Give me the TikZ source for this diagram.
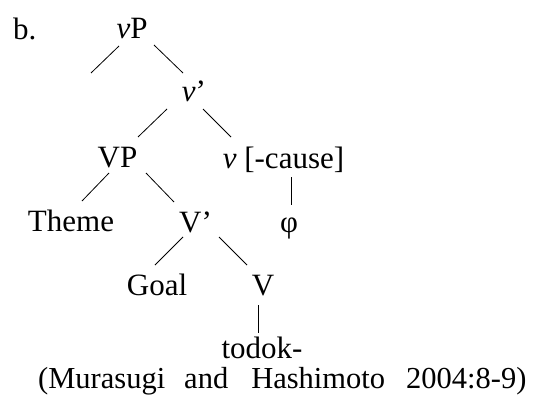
\documentclass[tikz,border=0pt]{standalone}
\usepackage{fontspec}
\setmainfont{Liberation Serif}
\usetikzlibrary{calc}
\begin{document}
\begin{tikzpicture}[x=1pt,y=-1pt,
  lab/.style={anchor=base,inner sep=0pt,font=\fontsize{31}{36}\selectfont},
  branch/.style={line width=0.8pt}]
\useasboundingbox (0,0) rectangle (533,396);
% labels of the tree
\node[lab,anchor=base west] (lbl) at (13,40) {b.};
\node[lab] (vP)    at (132,39)    {\textit{v}P};
\node[lab] (vbar)  at (194,102)   {\textit{v}’};
\node[lab] (VP)    at (117.5,167) {VP};
\node[lab] (vhead) at (283.5,168) {\textit{v} [-cause]};
\node[lab] (theme) at (71,231)    {Theme};
\node[lab] (Vbar)  at (195.5,232) {V’};
\node[lab] (phi)   at (289,232)   {φ};
\node[lab] (goal)  at (157,295)   {Goal};
\node[lab] (V)     at (263,295)   {V};
\node[lab] (todok) at (262,358)   {todok-};
\node[lab,anchor=base west,font=\fontsize{30.5}{36}\selectfont] (cite) at (38,388)
  {(Murasugi\hspace{19pt}and\hspace{23pt}Hashimoto\hspace{21pt}2004:8-9)};
% empty specifier branch
\coordinate (spec) at (91,73);
% branches
\draw[branch] ($(vP.base)+(-13,7)$)    -- (spec);
\draw[branch] ($(vP.base)+(22,6)$)     -- ($(vbar.base)+(-11,-29)$);
\draw[branch] ($(vbar.base)+(-27,7)$)  -- ($(VP.base)+(20.5,-30)$);
\draw[branch] ($(vbar.base)+(9,7)$)    -- ($(vhead.base)+(-52.5,-31)$);
\draw[branch] ($(VP.base)+(-8.5,6)$)   -- ($(theme.base)+(11,-30)$);
\draw[branch] ($(VP.base)+(28.5,6)$)   -- ($(Vbar.base)+(-21.5,-30)$);
\draw[branch] ($(vhead.base)+(7.5,9)$) -- ($(phi.base)+(2,-27)$);
\draw[branch] ($(Vbar.base)+(-12.5,5)$) -- ($(goal.base)+(-2,-30)$);
\draw[branch] ($(Vbar.base)+(23.5,5)$) -- ($(V.base)+(-16,-30)$);
\draw[branch] ($(V.base)+(-5,10)$)     -- ($(todok.base)+(-4,-25)$);
\end{tikzpicture}
\end{document}
